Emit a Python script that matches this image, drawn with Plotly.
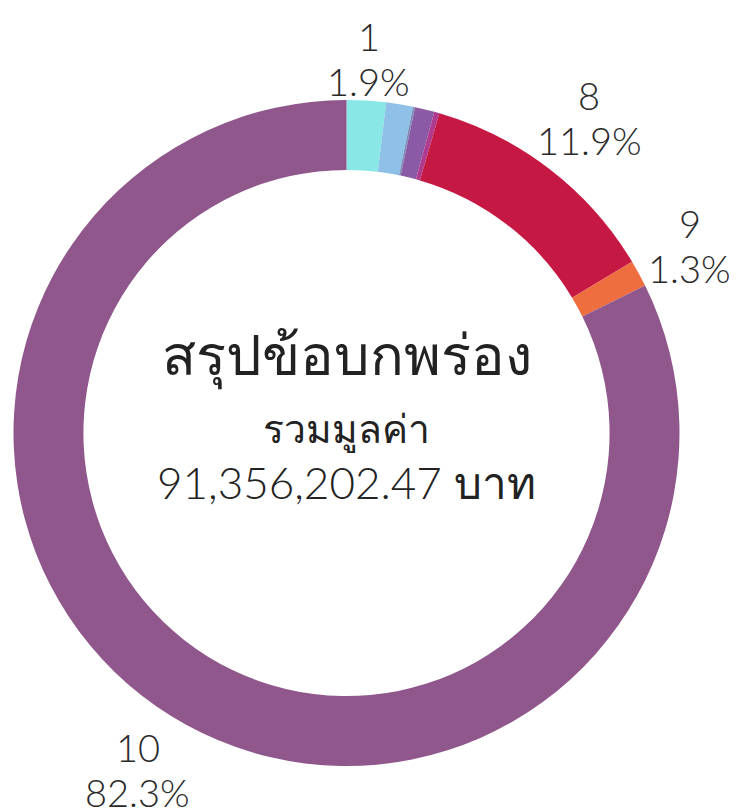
import math
import plotly.graph_objects as go

categories = ["1", "2", "3", "4", "5", "8", "9", "10"]
shares = [1.9, 1.3, 0.1, 0.95, 0.25, 11.9, 1.3, 82.3]
colors = ["#89E8E6", "#8EC0E8", "#7D8FB8", "#8A5AA6", "#B03A8E", "#C51842", "#EE6E3F", "#8F578C"]
show_label = [True, False, False, False, False, True, True, True]

title_text = "สรุปข้อบกพร่อง"
subtitle_1 = "รวมมูลค่า"
subtitle_2_num = "91,356,202.47"
subtitle_2_unit = "บาท"

font_family = "Lato, 'Noto Sans', sans-serif"
W, H = 738, 809
ML, MR, MT, MB = 5, 66, 92, 51
label_size = 38
line_pitch = 45

fig = go.Figure(go.Pie(
    labels=categories,
    values=shares,
    marker=dict(colors=colors, line=dict(width=0)),
    hole=0.79,
    sort=False,
    direction="clockwise",
    rotation=0,
    textinfo="none",
    showlegend=False,
    hoverinfo="label+percent",
))

# outside labels placed along each slice's mid-angle
pw, ph = W - ML - MR, H - MT - MB
R = min(pw, ph) / 2
cx, cy = ML + pw / 2, MT + ph / 2
total = sum(shares)
cum = 0.0
for cat, v, s in zip(categories, shares, show_label):
    mid = (cum + v / 2) / total * 2 * math.pi
    cum += v
    if not s:
        continue
    pct = f"{v / total * 100:.1f}%"
    bw = 0.56 * label_size * max(len(cat), len(pct))
    bh = line_pitch + 0.75 * label_size
    sx, sy = math.sin(mid), -math.cos(mid)
    d = 1.01 * R + abs(sx) * bw / 2 + abs(sy) * bh / 2
    px, py = cx + d * sx, cy + d * sy
    for txt, off in ((cat, -line_pitch / 2), (pct, line_pitch / 2)):
        fig.add_annotation(
            x=(px - ML) / pw, y=1 - (py + off - MT) / ph, xref="paper", yref="paper",
            xanchor="center", yanchor="middle", showarrow=False,
            text=txt,
            font=dict(size=label_size, color="#2a2a2a", family=font_family, weight=300),
        )

fig.add_annotation(x=0.5, y=0.5, xref="paper", yref="paper", yanchor="middle",
                   text=title_text, showarrow=False, yshift=78,
                   font=dict(size=56, color="#222222", family=font_family, weight=300))
fig.add_annotation(x=0.5, y=0.5, xref="paper", yref="paper", yanchor="middle",
                   text=subtitle_1, showarrow=False, yshift=4,
                   font=dict(size=39, color="#222222", family=font_family, weight=300))
fig.add_annotation(x=0.5, y=0.5, xref="paper", yref="paper", yanchor="middle",
                   text=f"{subtitle_2_num} {subtitle_2_unit}",
                   showarrow=False, yshift=-49,
                   font=dict(size=44, color="#222222", family=font_family, weight=300))

fig.update_layout(
    width=W, height=H,
    margin=dict(l=ML, r=MR, t=MT, b=MB),
    paper_bgcolor="white",
    plot_bgcolor="white",
)

fig.write_html("out.html")
